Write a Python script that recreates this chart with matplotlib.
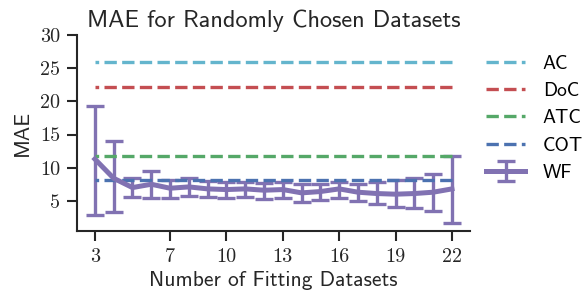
import matplotlib
matplotlib.use("Agg")
import matplotlib.pyplot as plt
from matplotlib.ticker import FuncFormatter

# number of fitting datasets
n_fit = [3, 4, 5, 6, 7, 8, 9, 10, 11, 12, 13, 14, 15, 16, 17, 18, 19, 20, 21, 22]
# WF mean MAE and error bar ends
wf_mean = [11.3, 8.4, 7.0, 7.5, 6.9, 7.1, 6.8, 6.7, 6.8, 6.6, 6.7, 6.2, 6.4, 6.8, 6.3, 6.1, 6.0, 6.1, 6.3, 6.8]
wf_upper = [19.3, 14.1, 8.4, 9.5, 8.1, 8.4, 8.0, 7.9, 7.9, 7.7, 7.8, 7.5, 7.6, 7.9, 7.6, 7.9, 8.1, 8.4, 9.0, 11.8]
wf_lower = [2.9, 3.3, 5.6, 5.5, 5.5, 5.8, 5.6, 5.4, 5.6, 5.3, 5.4, 4.8, 5.1, 5.5, 4.9, 4.5, 4.0, 3.9, 3.4, 1.7]
# constant baselines
baselines = {'AC': 25.9, 'DoC': 22.2, 'ATC': 11.8, 'COT': 8.1}
colors = {'AC': '#64B5CD', 'DoC': '#C44E52', 'ATC': '#55A868', 'COT': '#4C72B0', 'WF': '#8172B2'}
x_ticks = [3, 7, 10, 13, 16, 19, 22]

sans = 'cmss10'
serif = 'cmr10'
dark = '#262626'

fig = plt.figure(figsize=(5.88, 2.95), dpi=100)
ax = fig.add_axes([0.131, 0.217, 0.668, 0.664])

err = [[m - lo for m, lo in zip(wf_mean, wf_lower)],
       [hi - m for m, hi in zip(wf_mean, wf_upper)]]
wf = ax.errorbar(n_fit, wf_mean, yerr=err, color=colors['WF'], lw=3.6,
                 elinewidth=2.4, capsize=6.5, capthick=2.4, label='WF')

handles = []
for name, val in baselines.items():
    # drawn from right to left, like the original
    h, = ax.plot([n_fit[-1], n_fit[0]], [val, val], ls='--', lw=2.4,
                 color=colors[name], label=name)
    handles.append(h)
handles.append(wf)

ax.set_xlim(2.05, 22.95)
ax.set_ylim(0.45, 30)
ax.set_xticks(x_ticks)
ax.set_yticks([5, 10, 15, 20, 25, 30])
ax.xaxis.set_major_formatter(FuncFormatter(lambda v, p: '%d' % v))
ax.yaxis.set_major_formatter(FuncFormatter(lambda v, p: '%d' % v))
for lab in ax.get_xticklabels() + ax.get_yticklabels():
    lab.set_fontfamily(serif)
    lab.set_fontsize(14.5)
    lab.set_color(dark)
ax.tick_params(length=7, width=1.5, colors=dark, pad=5)
for s in ['top', 'right']:
    ax.spines[s].set_visible(False)
for s in ['left', 'bottom']:
    ax.spines[s].set_linewidth(1.5)
    ax.spines[s].set_color(dark)

ax.set_title('MAE for Randomly Chosen Datasets', fontfamily=sans, fontsize=17.5, color=dark)
ax.set_xlabel('Number of Fitting Datasets', fontfamily=sans, fontsize=15.5, color=dark, labelpad=4)
ax.set_ylabel('MAE', fontfamily=sans, fontsize=15.5, color=dark, labelpad=6)

ax.legend(handles=handles, loc='upper left', bbox_to_anchor=(1.0, 0.985),
          frameon=False, prop={'family': sans, 'size': 14},
          labelspacing=0.48, handlelength=2.0, handletextpad=0.9,
          borderaxespad=0.45)

fig.savefig('out.png', dpi=100)
